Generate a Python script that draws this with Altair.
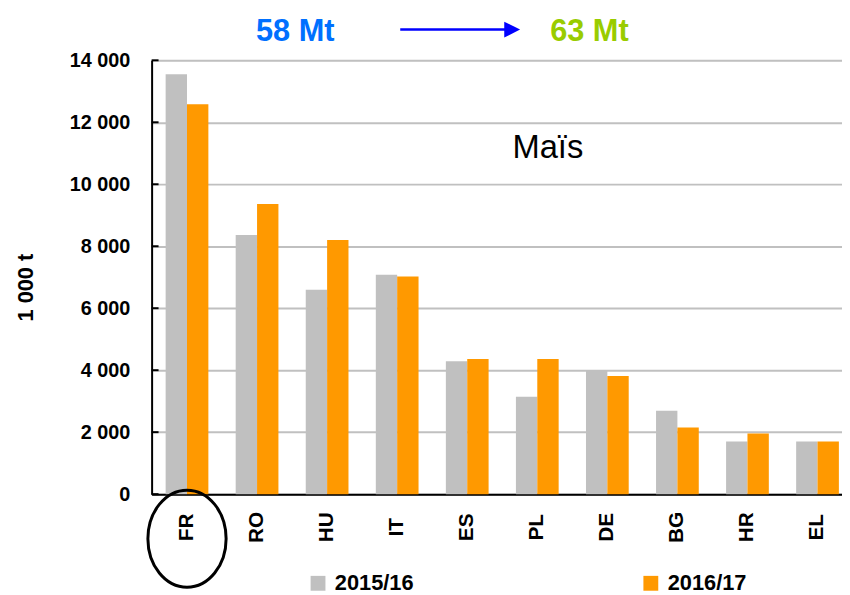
import altair as alt
import pandas as pd

# ---- data ----
countries = ["FR", "RO", "HU", "IT", "ES", "PL", "DE", "BG", "HR", "EL"]
years = ["2015/16", "2016/17"]
prod_2015_16 = [13550, 8360, 6600, 7080, 4290, 3140, 3990, 2690, 1700, 1700]
prod_2016_17 = [12580, 9360, 8200, 7020, 4360, 4360, 3810, 2150, 1960, 1700]
y_ticks = [0, 2000, 4000, 6000, 8000, 10000, 12000, 14000]
total_before = "58 Mt"
total_after = "63 Mt"
crop_label = "Maïs"
y_title = "1 000 t"
highlight = "FR"

colors = ["#c0c0c0", "#ff9900"]
FONT = "Liberation Sans"

rows = []
for c, a, b in zip(countries, prod_2015_16, prod_2016_17):
    rows.append({"country": c, "year": years[0], "value": a})
    rows.append({"country": c, "year": years[1], "value": b})
df = pd.DataFrame(rows)

x_enc = alt.X(
    "country:N",
    sort=countries,
    scale=alt.Scale(paddingInner=0.39, paddingOuter=0.2),
    title=None,
    axis=alt.Axis(
        labelAngle=270,
        labelAlign="center",
        labelBaseline="middle",
        labelPadding=33,
        ticks=False,
        tickSize=0,
        domainColor="black",
        domainWidth=2,
        labelFontSize=21,
        labelFontWeight="bold",
        labelColor="black",
        labelFont=FONT,
        grid=False,
    ),
)

bars = alt.Chart(df).mark_bar().encode(
    x=x_enc,
    xOffset=alt.XOffset("year:N", sort=years),
    y=alt.Y(
        "value:Q",
        scale=alt.Scale(domain=[0, 14000], nice=False),
        title=y_title,
        axis=alt.Axis(
            values=y_ticks,
            labelExpr="replace(format(datum.value, ','), ',', ' ')",
            ticks=False,
            labelPadding=22,
            labelFontSize=20,
            labelFontWeight="bold",
            labelColor="black",
            labelFont=FONT,
            grid=True,
            gridColor="#c0c0c0",
            gridWidth=2,
            domainColor="black",
            domainWidth=2,
            titleFontSize=22,
            titleFontWeight="bold",
            titleFont=FONT,
            titleColor="black",
            titleX=-127,
            titleY=229,
            titleAlign="center",
            titleBaseline="middle",
            titleAngle=270,
        ),
    ),
    color=alt.Color(
        "year:N",
        sort=years,
        scale=alt.Scale(domain=years, range=colors),
        legend=alt.Legend(
            title=None,
            orient="none",
            legendX=157,
            legendY=517,
            direction="horizontal",
            symbolType="square",
            symbolSize=225,
            symbolStrokeWidth=0,
            symbolOpacity=1,
            labelFontSize=22,
            labelFontWeight="bold",
            labelFont=FONT,
            labelColor="black",
            labelOffset=6,
            columnPadding=228,
        ),
    ),
)

ticks = alt.Chart(pd.DataFrame({"v": y_ticks})).mark_rule(
    color="black", strokeWidth=2
).encode(
    y=alt.Y("v:Q"),
    x=alt.value(0),
    x2=alt.value(7),
)

ellipse_path = "M -0.806 0 A 0.806 1 0 1 0 0.806 0 A 0.806 1 0 1 0 -0.806 0 Z"
ellipse = alt.Chart(pd.DataFrame({"country": [highlight]})).mark_point(
    shape=ellipse_path,
    size=9604,
    filled=False,
    stroke="black",
    strokeWidth=3,
    opacity=1,
).encode(
    x=alt.X("country:N", sort=countries),
    y=alt.value(483),
)

t1 = alt.Chart(pd.DataFrame({"t": [total_before]})).mark_text(
    font=FONT, fontSize=31, fontWeight="bold", color="#0070ff",
    align="center", baseline="alphabetic",
).encode(x=alt.value(145), y=alt.value(-20), text="t:N")

t2 = alt.Chart(pd.DataFrame({"t": [total_after]})).mark_text(
    font=FONT, fontSize=31, fontWeight="bold", color="#99cc00",
    align="center", baseline="alphabetic",
).encode(x=alt.value(442), y=alt.value(-20), text="t:N")

arrow_line = alt.Chart(pd.DataFrame({"t": [0]})).mark_rule(
    color="#0000ff", strokeWidth=2.5
).encode(x=alt.value(251), x2=alt.value(358), y=alt.value(-31))

arrow_head = alt.Chart(pd.DataFrame({"t": [0]})).mark_point(
    shape="M -1 -1 L 1 0 L -1 1 Z", size=256, filled=True,
    color="#0000ff", opacity=1,
).encode(x=alt.value(364), y=alt.value(-31))

crop = alt.Chart(pd.DataFrame({"t": [crop_label]})).mark_text(
    font=FONT, fontSize=33, color="black", align="center", baseline="alphabetic",
).encode(x=alt.value(400), y=alt.value(99), text="t:N")

chart = alt.layer(
    bars, ticks, ellipse, t1, t2, arrow_line, arrow_head, crop
).properties(
    width=708,
    height=438,
    autosize=alt.AutoSizeParams(type="none"),
    padding={"left": 145, "top": 50, "right": -11, "bottom": 99},
).configure_view(stroke=None).configure(font=FONT)

chart.save("out.html", embed_options={"renderer": "svg", "actions": False})
